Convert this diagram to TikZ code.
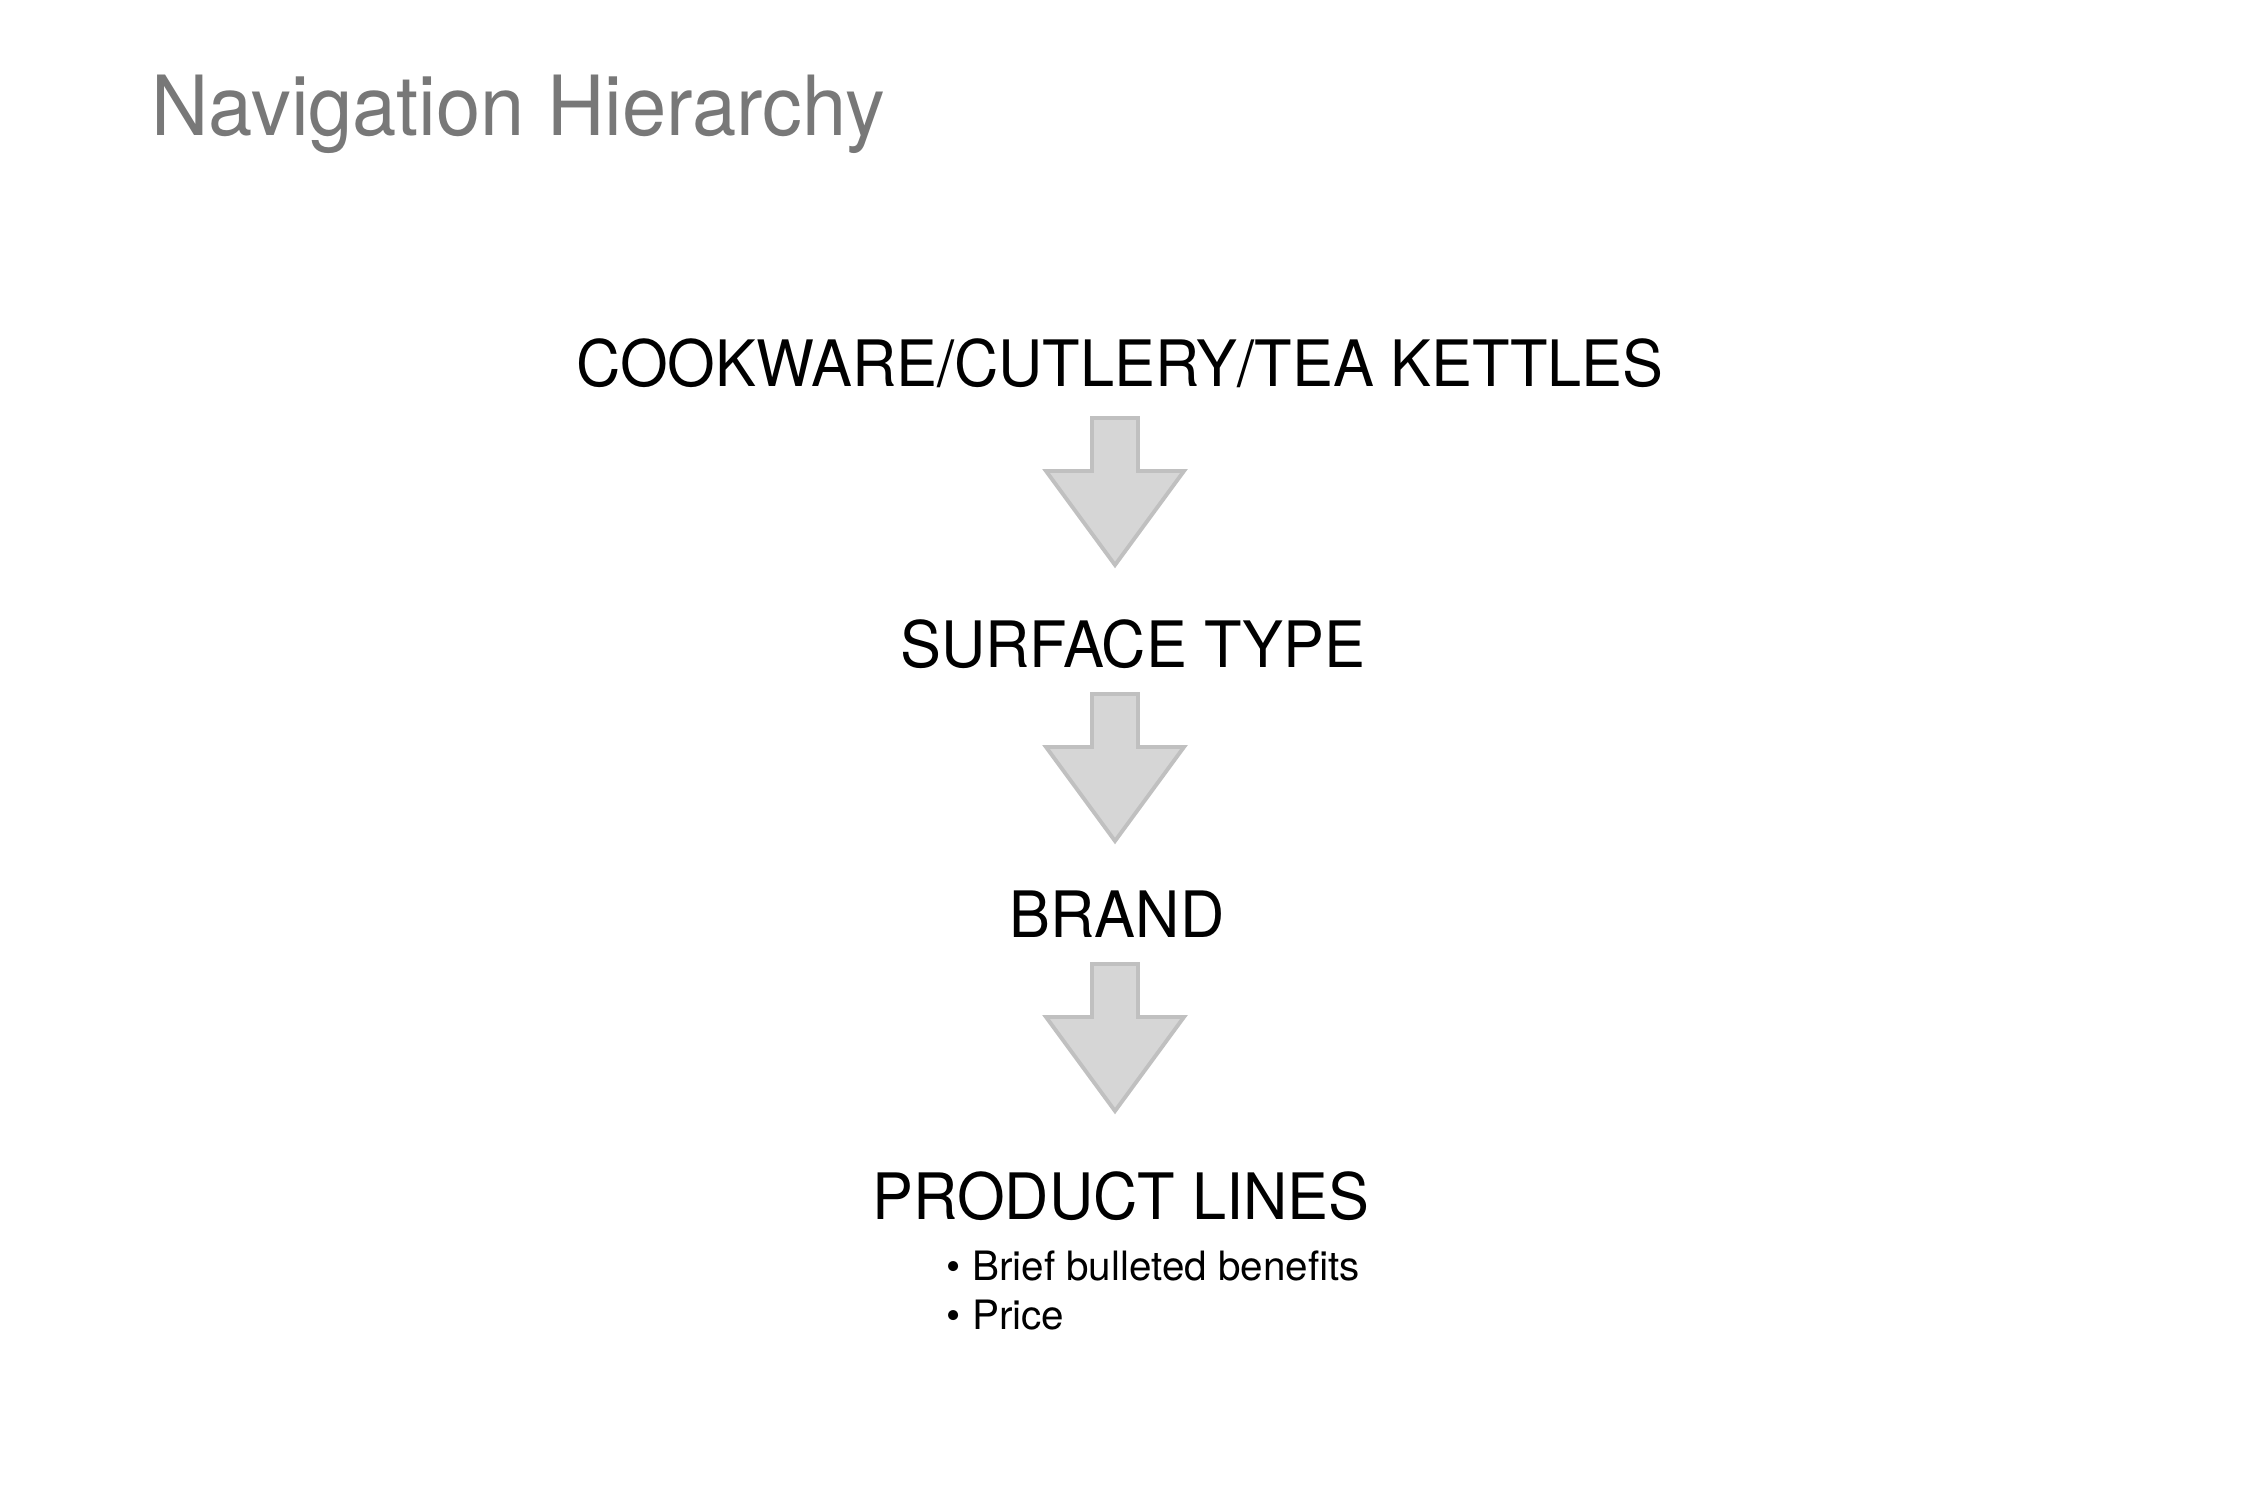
\documentclass[tikz,border=0pt]{standalone}
\usepackage{fontspec}
\setmainfont{TeX Gyre Heros}
\newfontfamily\narrowsans{TeX Gyre Heros}[FakeStretch=0.958]
\usetikzlibrary{positioning}
\definecolor{titlegray}{HTML}{787878}
\definecolor{arrowfill}{HTML}{D6D6D6}
\definecolor{arrowline}{HTML}{C0C0C0}
\def\hierarrow#1{\draw[blockarrow,shift={(#1)}] (-23,0) -- (23,0) -- (23,53) -- (69,53) -- (0,147) -- (-69,53) -- (-23,53) -- cycle;}

\begin{document}
\begin{tikzpicture}[x=0.01cm,y=-0.01cm,
		heading/.style={font=\narrowsans\fontsize{23.6}{28}\selectfont,text=titlegray,anchor=base west,inner sep=0pt},
		level/.style={font=\narrowsans\fontsize{18.2}{22}\selectfont,anchor=base,inner sep=0pt},
		point/.style={font=\fontsize{11.5}{14}\selectfont,anchor=base west,inner sep=0pt},
		blockarrow/.style={fill=arrowfill,draw=arrowline,line width=1.1pt,line join=miter}]
		\useasboundingbox (0,0) rectangle (2265,1500);
		
		\node[heading] (title) at (151,136) {Navigation Hierarchy};
		
		\node[level] (cat)    at (1120,387)  {COOKWARE/CUTLERY/TEA KETTLES};
		\node[level] (surf)   at (1133,668)  {SURFACE TYPE};
		\node[level] (brand)  at (1117,937)  {BRAND};
		\node[level] (lines)  at (1121,1219) {PRODUCT LINES};
		
		\node[point] (benefits) at (946,1280) {\textbullet\ Brief bulleted benefits};
		\node[point] (price)    at (946,1329) {\textbullet\ Price};
		
		\coordinate (a1) at (1115,418);
		\coordinate (a2) at (1115,694);
		\coordinate (a3) at (1115,964);
		\hierarrow{a1}
		\hierarrow{a2}
		\hierarrow{a3}
\end{tikzpicture}
\end{document}
